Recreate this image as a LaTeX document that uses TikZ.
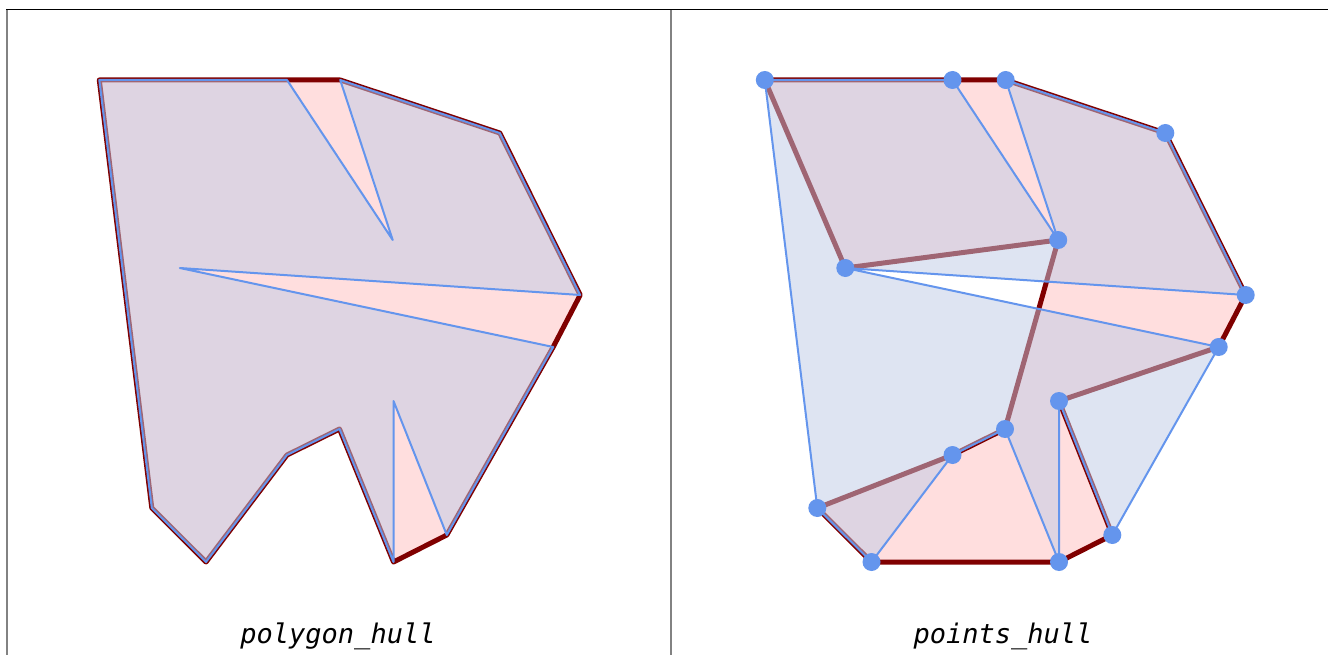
\documentclass[tikz,border=0pt]{standalone}
\usepackage{fontspec}
\newfontfamily\labelmono{DejaVu Sans Mono}
\definecolor{hullfill}{RGB}{255,222,222}
\definecolor{hulledge}{RGB}{128,0,0}
\definecolor{polyfill}{RGB}{191,203,231}
\definecolor{polyedge}{RGB}{100,149,237}
\definecolor{framegray}{RGB}{130,130,130}
\begin{document}
\begin{tikzpicture}[x=1pt,y=-1pt,
  hullshape/.style={fill=hullfill,draw=hulledge,line width=5pt,line join=round},
  polyfillshape/.style={fill=polyfill,fill opacity=0.5},
  polyline/.style={draw=polyedge,line width=2pt,line join=round},
  vertexdot/.style={circle,fill=polyedge,inner sep=0pt,minimum size=18pt},
  caption/.style={font=\labelmono\itshape\fontsize{27}{30}\selectfont,anchor=base,inner sep=0pt},
  framev/.style={draw=framegray,line width=1.8pt},
  frameh/.style={draw=black,line width=1.2pt}]
\useasboundingbox (0,0) rectangle (1328,655);
\fill[white] (0,0) rectangle (1328,655);
% vertices (left panel), right panel shifted by 665.5
\foreach \n/\px/\py in {A/99.3/80, B/287/80, N1/392.7/240, C/340.2/80, D/499.8/133,
  E/580.2/295, N2/179.8/268, F/553.2/347, G/446.8/535, N3/393.5/401, H/393.5/562,
  I/339.5/429, J/287/455, K/206/562, L/151.8/508}{
  \coordinate (l\n) at (\px,\py);
  \coordinate (r\n) at (\px+665.5,\py);
}
% frame
\draw[framev] (7,9.5) -- (7,655);
\draw[framev] (671,9.5) -- (671,655);
\draw[frameh] (6,9.5) -- (1328,9.5);
% left panel: polygon_hull
\path[hullshape] (lA)--(lB)--(lC)--(lD)--(lE)--(lF)--(lG)--(lH)--(lI)--(lJ)--(lK)--(lL)--cycle;
\path[polyfillshape] (lA)--(lB)--(lN1)--(lC)--(lD)--(lE)--(lN2)--(lF)--(lG)--(lN3)--(lH)--(lI)--(lJ)--(lK)--(lL)--cycle;
\path[polyline] (lA)--(lB)--(lN1)--(lC)--(lD)--(lE)--(lN2)--(lF)--(lG)--(lN3)--(lH)--(lI)--(lJ)--(lK)--(lL)--cycle;
\node[caption] (capL) at (338,643) {polygon\_hull};
% right panel: points_hull
\path[hullshape] (rA)--(rB)--(rC)--(rD)--(rE)--(rF)--(rN3)--(rG)--(rH)--(rK)--(rL)--(rJ)--(rI)--(rN1)--(rN2)--cycle;
\path[polyfillshape] (rA)--(rB)--(rN1)--(rC)--(rD)--(rE)--(rN2)--(rF)--(rG)--(rN3)--(rH)--(rI)--(rJ)--(rK)--(rL)--cycle;
\path[polyline] (rA)--(rB)--(rN1)--(rC)--(rD)--(rE)--(rN2)--(rF)--(rG)--(rN3)--(rH)--(rI)--(rJ)--(rK)--(rL)--cycle;
\foreach \n in {A,B,N1,C,D,E,N2,F,G,N3,H,I,J,K,L}{
  \node[vertexdot] (dot\n) at (r\n) {};
}
\node[caption] (capR) at (1003,643) {points\_hull};
\end{tikzpicture}
\end{document}
